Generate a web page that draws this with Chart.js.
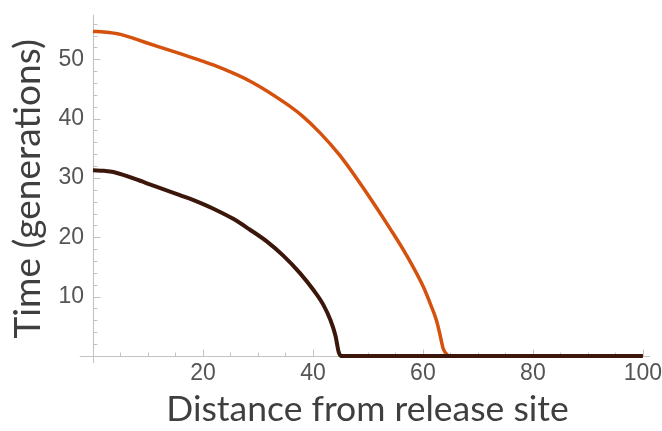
<!DOCTYPE html>
<html>
<head>
<meta charset="utf-8">
<script src="https://cdn.jsdelivr.net/npm/chart.js@4.4.1/dist/chart.umd.min.js"></script>
<style>
    html, body { margin: 0; padding: 0; background: #fff; }
    #wrap { width: 662px; height: 431px; }
</style>
</head>
<body>
<div id="wrap"><canvas id="releaseChart" width="662" height="431"></canvas></div>
<script>
// Distance from release site vs. time (generations)
const distShort = [0, 2, 3.7, 9.8, 15.8, 19.5, 21.9, 25.5, 28.5, 31.6, 34.6, 37.6, 40.1, 41.9, 43.2, 44.1, 44.7, 45.2, 100];
const timeShort = [31.3, 31.2, 31.0, 29.1, 27.1, 25.8, 24.8, 23.1, 21.3, 19.3, 16.9, 14.0, 11.1, 8.6, 6.0, 3.4, 0.6, 0, 0];

const distLong = [0, 2, 5, 10, 16, 22, 29, 35, 38, 41.3, 44.9, 47.9, 50.7, 54, 57, 60.1, 61.3, 62.5, 63.1, 63.7, 64.3, 65, 100];
const timeLong = [54.7, 54.6, 54.2, 52.7, 50.9, 49.0, 46.1, 42.6, 40.5, 37.6, 33.8, 30.0, 26.2, 21.5, 17.0, 11.6, 8.9, 5.9, 3.6, 1.2, 0.3, 0, 0];

const xTicks = [20, 40, 60, 80, 100];
const yTicks = [10, 20, 30, 40, 50];
const xMinorStep = 5;
const yMinorStep = 2;
const xAxisFrom = -2.4;

const axisColor = '#c2c2c2';
const labelColor = '#555';
const titleColor = '#3f3f3f';
const tickFont = "'Liberation Sans', Arial, sans-serif";
const titleFont = "Lato, 'Noto Sans', sans-serif";

// Mathematica-style axes crossing at the origin, ticks pointing inward
const crossAxes = {
    id: 'crossAxes',
    beforeDatasetsDraw(chart) {
        const { ctx, chartArea, scales: { x, y } } = chart;
        const x0 = Math.round(x.getPixelForValue(0)) + 0.5;
        const y0 = Math.round(y.getPixelForValue(0)) + 0.5;
        ctx.save();
        ctx.strokeStyle = axisColor;
        ctx.lineWidth = 1;
        ctx.beginPath();
        ctx.moveTo(x.getPixelForValue(xAxisFrom), y0);
        ctx.lineTo(chartArea.right, y0);
        ctx.moveTo(x0, chartArea.top);
        ctx.lineTo(x0, chartArea.bottom);
        for (let v = xMinorStep; v <= x.max; v += xMinorStep) {
            const px = Math.round(x.getPixelForValue(v)) + 0.5;
            const len = xTicks.includes(v) ? 7 : 4;
            ctx.moveTo(px, y0);
            ctx.lineTo(px, y0 - len);
        }
        for (let v = yMinorStep; v <= y.max; v += yMinorStep) {
            const py = Math.round(y.getPixelForValue(v)) + 0.5;
            const len = yTicks.includes(v) ? 7 : 4;
            ctx.moveTo(x0, py);
            ctx.lineTo(x0 + len, py);
        }
        ctx.stroke();
        ctx.restore();
    }
};

const toPoints = (xs, ys) => xs.map((v, i) => ({ x: v, y: ys[i] }));

new Chart(document.getElementById('releaseChart'), {
    type: 'line',
    data: {
        datasets: [
            {
                data: toPoints(distShort, timeShort),
                borderColor: '#3b170b',
                borderWidth: 4,
                pointRadius: 0,
                cubicInterpolationMode: 'monotone'
            },
            {
                data: toPoints(distLong, timeLong),
                borderColor: '#d5510e',
                borderWidth: 3.5,
                pointRadius: 0,
                cubicInterpolationMode: 'monotone'
            }
        ]
    },
    options: {
        responsive: false,
        animation: false,
        layout: { padding: { top: 11, right: 12, left: 0, bottom: 0 } },
        plugins: { legend: { display: false }, tooltip: { enabled: false } },
        scales: {
            x: {
                type: 'linear',
                min: -1.45,
                max: 101.3,
                afterBuildTicks: (s) => { s.ticks = xTicks.map(v => ({ value: v })); },
                afterFit: (s) => { s.height = 68; },
                grid: { display: false, drawTicks: false },
                border: { display: false },
                ticks: {
                    color: labelColor,
                    font: { family: tickFont, size: 23 },
                    padding: -3,
                    maxRotation: 0,
                    autoSkip: false
                },
                title: {
                    display: true,
                    text: 'Distance from release site',
                    color: titleColor,
                    font: { family: titleFont, size: 35.5 },
                    padding: { top: 0, bottom: 0 }
                }
            },
            y: {
                type: 'linear',
                min: -1.2,
                max: 57.5,
                afterBuildTicks: (s) => { s.ticks = yTicks.map(v => ({ value: v })); },
                afterFit: (s) => { s.width = 85; },
                grid: { display: false, drawTicks: false },
                border: { display: false },
                ticks: {
                    color: labelColor,
                    font: { family: tickFont, size: 23 },
                    padding: 1
                },
                title: {
                    display: true,
                    text: 'Time (generations)',
                    color: titleColor,
                    font: { family: titleFont, size: 37 },
                    padding: { top: 6, bottom: 0 }
                }
            }
        }
    },
    plugins: [crossAxes]
});
</script>
</body>
</html>
